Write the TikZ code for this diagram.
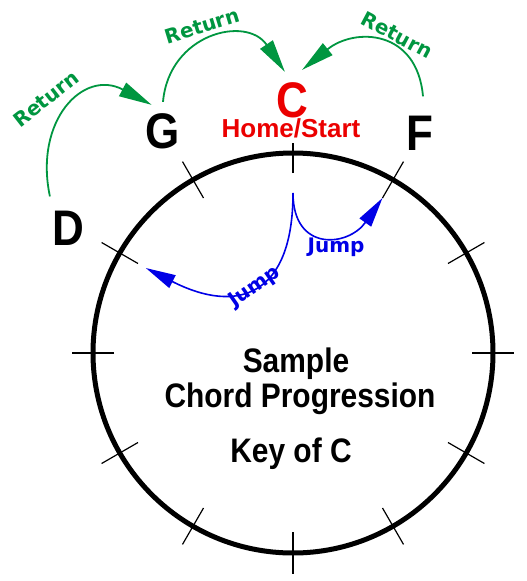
\documentclass[tikz,border=0pt]{standalone}
\usepackage{fontspec}
\setmainfont{Liberation Sans}
\newfontfamily\dejavu{DejaVu Sans}
\usepackage{xcolor}
\usepackage{tikz}
\usetikzlibrary{arrows.meta,calc}

\definecolor{retgreen}{RGB}{0,150,64}
\definecolor{jumpblue}{RGB}{0,0,230}
\definecolor{homered}{RGB}{235,0,0}

\newcommand{\narrowtxt}[1]{\scalebox{0.88}[1]{#1}}

\begin{document}
\begin{tikzpicture}[x=1pt, y=1pt,
    chord/.style={font=\fontsize{50}{56}\selectfont\bfseries, inner sep=0pt, anchor=base},
    title/.style={font=\fontsize{34}{38}\selectfont\bfseries, inner sep=0pt, anchor=base},
    retlbl/.style={font=\dejavu\fontsize{20}{24}\selectfont\bfseries, text=retgreen, inner sep=0pt},
    jumplbl/.style={font=\dejavu\fontsize{20}{24}\selectfont\bfseries, text=jumpblue, inner sep=0pt},
    ret/.style={draw=retgreen, line width=1.8pt, -{Triangle[length=33pt, width=15pt]}},
    jump/.style={draw=jumpblue, line width=1.6pt, -{Triangle[length=30pt, width=14pt]}},
    tick/.style={line width=1.2pt}]
  \useasboundingbox (0,0) rectangle (527,-581);

  % the wheel
  \coordinate (ctr) at (293,-353);
  \draw[line width=5pt] (ctr) circle[radius=200];
  \foreach \a in {0,30,60,120,150,180,210,240,270,300,330}
    \draw[tick] ($(ctr)+(\a:179)$) -- ($(ctr)+(\a:221)$);
  \draw[tick] ($(ctr)+(90:180)$) -- ($(ctr)+(90:210)$);

  % chords
  \node[chord, text=homered] (C) at (292,-117) {\narrowtxt{C}};
  \node[chord] (G) at (163,-148) {\narrowtxt{G}};
  \node[chord] (F) at (420,-150) {\narrowtxt{F}};
  \node[chord] (D) at (68,-245) {\narrowtxt{D}};
  \node[font=\fontsize{26}{30}\selectfont\bfseries, text=homered, inner sep=0pt, anchor=base] (home) at (291,-137) {Home/Start};

  \node[title] (sample) at (296,-372) {\narrowtxt{Sample}};
  \node[title] (prog) at (300,-407) {\narrowtxt{Chord Progression}};
  \node[title] (key) at (291,-462) {\narrowtxt{Key of C}};

  % returns
  \draw[ret] ([shift={(-2,14)}]D.north west) to[out=102, in=152, looseness=1.45] ([shift={(6,8)}]G.north west);
  \draw[ret] ([yshift=11]G.north) to[out=85, in=124, looseness=1.4] ([shift={(9,10)}]C.north west);
  \draw[ret] ([shift={(3,19)}]F.north) to[out=95, in=39, looseness=1.4] ([shift={(-6,12)}]C.north east);
  \node[retlbl, rotate=38] (ret1) at (46,-99) {Return};
  \node[retlbl, rotate=17] (ret2) at (202,-26) {Return};
  \node[retlbl, rotate=-28] (ret3) at (397,-35) {Return};

  % jumps
  \coordinate (homein) at ($(ctr)+(90:160)$);
  \coordinate (fin) at ($(ctr)+(60:179)$);
  \coordinate (din) at ($(ctr)+(150:170)$);
  \draw[jump] (homein) to[out=-90, in=235, looseness=1.7] (fin);
  \draw[jump] (homein) to[out=-90, in=-27, looseness=1.6] (din);
  \node[jumplbl, anchor=base] (jump1) at (336,-252) {Jump};
  \node[jumplbl, rotate=35] (jump2) at (255,-287) {Jump};
\end{tikzpicture}
\end{document}
